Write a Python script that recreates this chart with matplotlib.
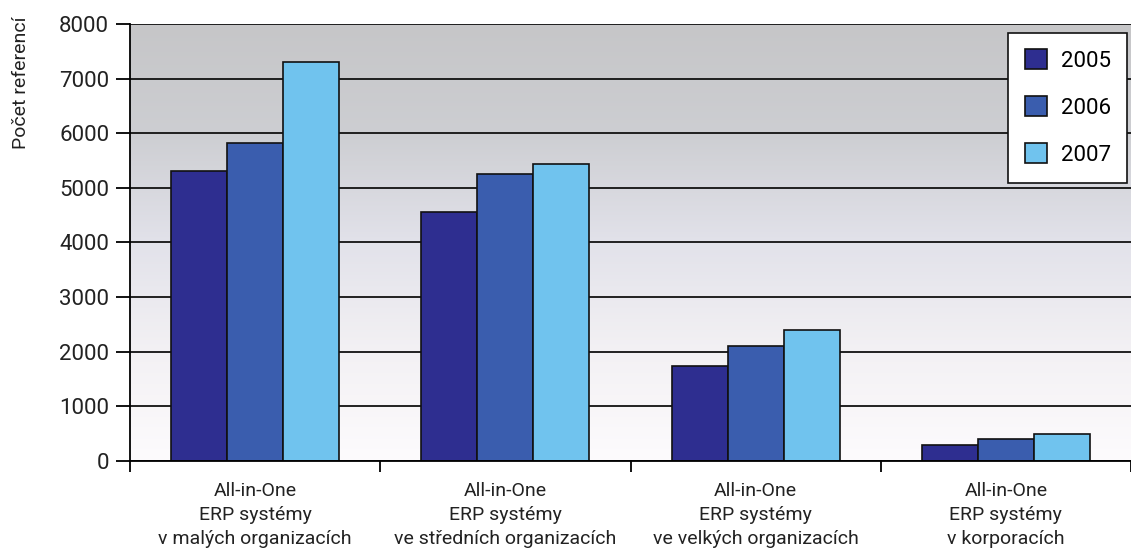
import numpy as np
import matplotlib
matplotlib.use("Agg")
from matplotlib import pyplot as plt
from matplotlib.colors import LinearSegmentedColormap

# chart data
categories = [
    "All-in-One\nERP systémy\nv malých organizacích",
    "All-in-One\nERP systémy\nve středních organizacích",
    "All-in-One\nERP systémy\nve velkých organizacích",
    "All-in-One\nERP systémy\nv korporacích",
]
years = ["2005", "2006", "2007"]
refs_2005 = [5300, 4550, 1740, 300]
refs_2006 = [5820, 5250, 2100, 400]
refs_2007 = [7300, 5430, 2390, 490]
colors = ["#2e2e90", "#3a5dae", "#70c3ee"]

plt.rcParams["font.family"] = ["Roboto", "DejaVu Sans"]

fig = plt.figure(figsize=(11.31, 5.6), dpi=100)
ax = fig.add_axes([0.115, 0.177, 0.885, 0.78])

# gray-to-white gradient background
grad = LinearSegmentedColormap.from_list(
    "bg", ["#fdfbfd", "#f3f1f4", "#e2e2ea", "#cdced2", "#c6c6c8"])
ax.imshow(np.linspace(0, 1, 256).reshape(-1, 1), cmap=grad, aspect="auto",
          extent=[-0.5, 3.5, 0, 8000], origin="lower", zorder=0)

x = np.arange(len(categories))
w = 0.224
series = [refs_2005, refs_2006, refs_2007]
for i, (vals, col, yr) in enumerate(zip(series, colors, years)):
    ax.bar(x + (i - 1) * w, vals, w, color=col, edgecolor="#111111",
           linewidth=1.2, label=yr, zorder=3)

ax.set_xlim(-0.5, 3.5)
ax.set_ylim(0, 8000)
ax.set_yticks(range(0, 8001, 1000))
ax.yaxis.grid(True, color="#111111", linewidth=1.3)
for gl in ax.get_ygridlines():
    gl.set_zorder(1)

ax.set_xticks(x)
ax.set_xticklabels(categories, fontsize=14, linespacing=1.45, color="#222222")
ax.set_xticks(np.arange(-0.5, 3.6, 1.0), minor=True)
ax.tick_params(axis="x", which="major", length=0, pad=15)
ax.tick_params(axis="x", which="minor", length=8, width=1.3, direction="out")
ax.tick_params(axis="y", length=10, width=1.3, labelsize=16, pad=5,
               labelcolor="#222222")

for s in ["right", "top"]:
    ax.spines[s].set_visible(False)
ax.spines["left"].set_linewidth(1.3)
ax.spines["bottom"].set_linewidth(1.3)
ax.spines["bottom"].set_zorder(4)

ax.set_ylabel("Počet referencí", fontsize=14, color="#222222")
ax.yaxis.set_label_coords(-0.1, 0.865)

leg = ax.legend(loc="upper right", bbox_to_anchor=(0.9965, 0.98),
                fontsize=16, frameon=True, fancybox=False,
                handlelength=1.0, handleheight=1.0, labelspacing=1.1,
                borderpad=0.75, handletextpad=0.6, borderaxespad=0)
leg.get_frame().set_edgecolor("#111111")
leg.get_frame().set_linewidth(1.2)
leg.get_frame().set_facecolor("white")
leg.get_frame().set_alpha(1)
leg.set_zorder(5)

fig.savefig("out.png", dpi=100)
